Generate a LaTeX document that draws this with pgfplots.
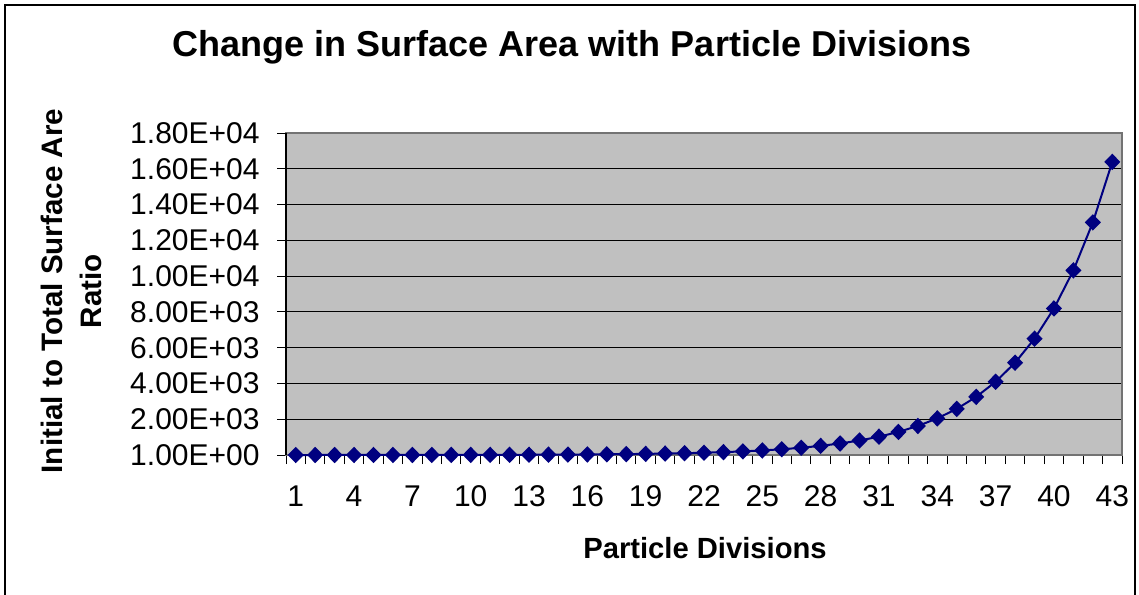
\documentclass[border=0pt]{standalone}
\usepackage{pgfplots}
\pgfplotsset{compat=1.18}
\usepackage{fontspec}
\setmainfont{Liberation Sans}
\definecolor{plotgray}{HTML}{C0C0C0}
\definecolor{navyblue}{HTML}{000080}
\begin{document}
\begin{tikzpicture}
\useasboundingbox (0,0) rectangle (569.5pt,-297pt);
% chart area border (bottom edge is cut off in the reference)
\draw[line width=1pt] (2.5pt,-300pt) -- (2.5pt,-2.5pt) -- (567.5pt,-2.5pt) -- (567.5pt,-300pt);
\node[font=\bfseries\fontsize{18}{21}\selectfont] at (286pt,-23.5pt)
  {Change in Surface Area with Particle Divisions};
\node[font=\bfseries\fontsize{14.8}{19.5}\selectfont, rotate=90, align=center]
  at (35.75pt,-145.5pt) {Initial to Total Surface Are\\Ratio};
\node[font=\bfseries\fontsize{14.6}{17}\selectfont] at (352.5pt,-274pt) {Particle Divisions};
\begin{axis}[
  at={(143pt,-66.5pt)}, anchor=north west,
  width=418pt, height=161pt, scale only axis,
  xmin=0.5, xmax=43.5, ymin=1, ymax=18000,
  axis background/.style={fill=plotgray},
  axis line style={draw=gray!90!black, line width=0.6pt},
  tick align=outside,
  tick pos=left,
  scaled y ticks=false,
  xtick={1,4,...,43},
  major x tick style={draw=none},
  minor xtick={0.5,1.5,...,43.5},
  minor x tick style={black, line width=0.5pt},
  minor tick length=4.5pt,
  ytick={1,2000,4000,6000,8000,10000,12000,14000,16000,18000},
  yticklabels={1.00E+00,2.00E+03,4.00E+03,6.00E+03,8.00E+03,1.00E+04,1.20E+04,1.40E+04,1.60E+04,1.80E+04},
  major y tick style={black, line width=0.5pt},
  major tick length=4.5pt,
  ymajorgrids,
  major grid style={black, line width=0.5pt},
  tick label style={font=\fontsize{15}{17}\selectfont},
  /pgf/number format/assume math mode=true,
  xticklabel style={anchor=base, yshift=-21pt},
  yticklabel style={anchor=east, xshift=-5.2pt},
  clip=false,
]
\draw[black, line width=0.6pt] (rel axis cs:0,0) -- (rel axis cs:0,1);
\addplot[navyblue, line width=1pt, mark=diamond*, mark size=3.4pt,
  mark options={xscale=1.3, fill=navyblue, draw=navyblue}] coordinates {
  (1,1) (2,1.26) (3,1.587) (4,2) (5,2.52) (6,3.175) (7,4) (8,5.04)
  (9,6.35) (10,8) (11,10.08) (12,12.7) (13,16) (14,20.16) (15,25.4)
  (16,32) (17,40.32) (18,50.8) (19,64) (20,80.63) (21,101.6) (22,128)
  (23,161.3) (24,203.2) (25,256) (26,322.5) (27,406.4) (28,512)
  (29,645.1) (30,812.7) (31,1024) (32,1290.2) (33,1625.5) (34,2048)
  (35,2580.3) (36,3251) (37,4096) (38,5160.6) (39,6502) (40,8192)
  (41,10321.3) (42,13004) (43,16384)
};
\end{axis}
\end{tikzpicture}
\end{document}
